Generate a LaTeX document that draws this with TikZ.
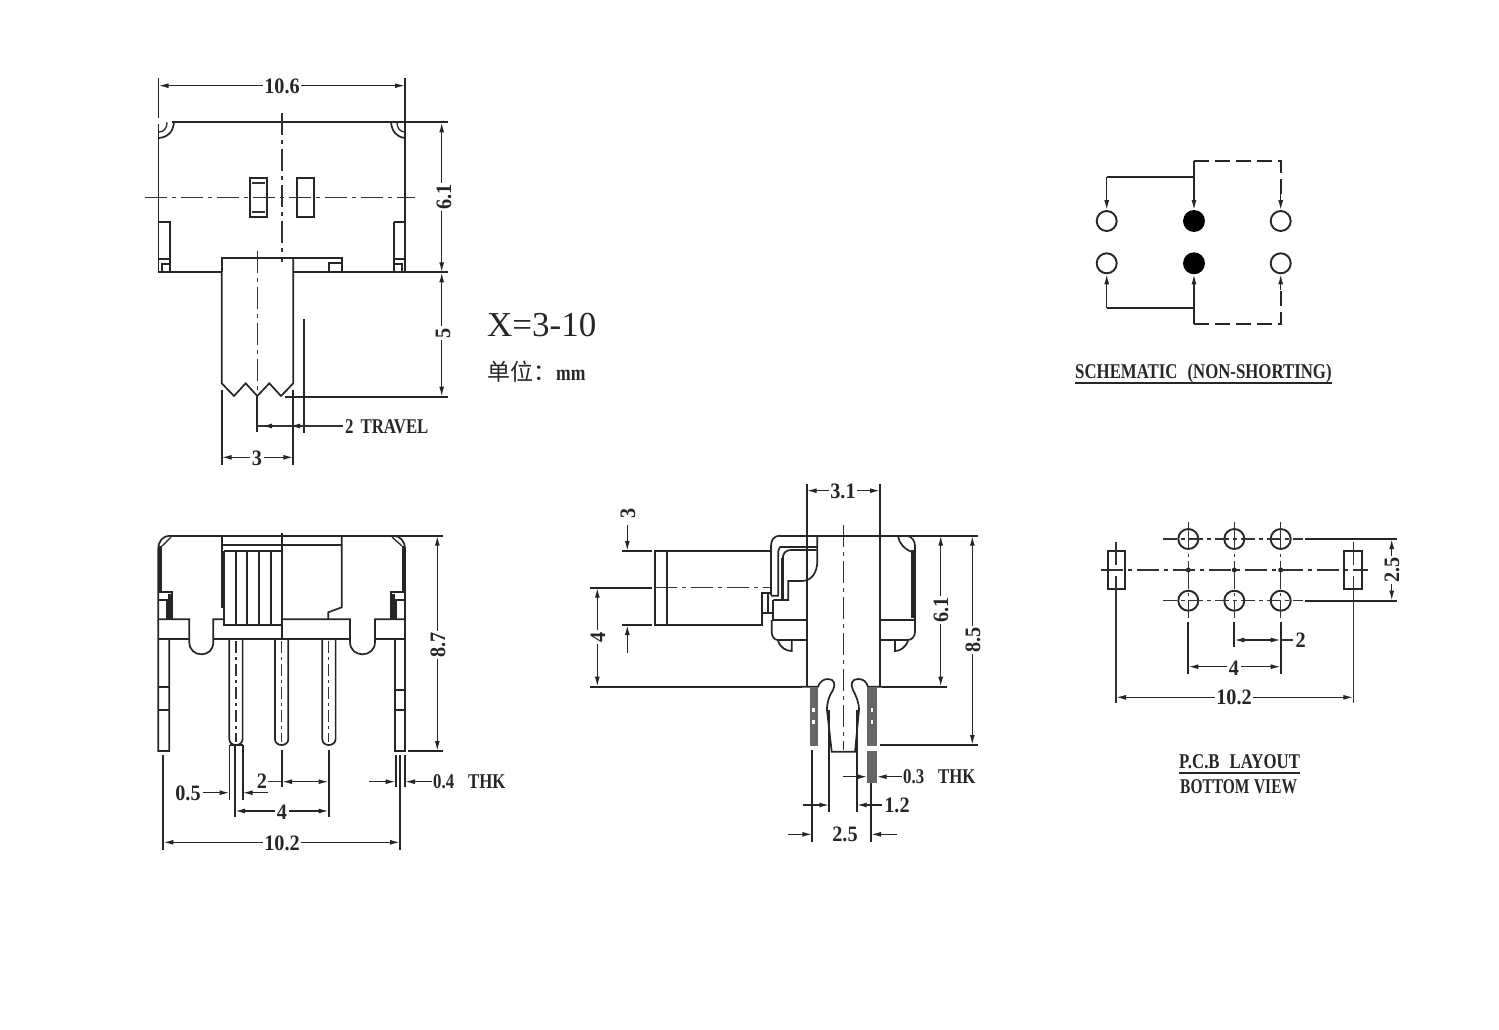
\documentclass[tikz,border=0pt]{standalone}
\usepackage{fontspec}
\usepackage{tikz}
\usetikzlibrary{arrows.meta}
\setmainfont{Liberation Serif}
\newfontfamily\digitfont{Liberation Serif}[FakeStretch=0.92]
\newfontfamily\capsfont{Liberation Serif}[FakeStretch=0.8]
\newfontfamily\cjkfont{Noto Sans CJK SC}
\tikzset{
  outline/.style={line width=1.7pt,draw=black!85},
  thinline/.style={line width=1.4pt,draw=black!80},
  heavyline/.style={line width=2.6pt,draw=black!85},
  centerline/.style={line width=1.4pt,draw=black!80,dash pattern=on 22pt off 5pt on 4pt off 5pt},
  dimboth/.style={line width=1.4pt,draw=black!85,{Latex[length=10pt,width=5pt]}-{Latex[length=10pt,width=5pt]}},
  dimend/.style={line width=1.4pt,draw=black!85,-{Latex[length=10pt,width=5pt]}},
  dimtext/.style={font=\digitfont\bfseries\fontsize{22}{22}\selectfont,fill=white,inner sep=1.5pt,text=black!85},
  capstext/.style={font=\capsfont\bfseries\fontsize{21}{21}\selectfont,inner sep=0pt,text=black!85,anchor=west},
  schemdash/.style={line width=1.7pt,draw=black!85,dash pattern=on 15pt off 6pt},
  hole/.style={line width=1.9pt,draw=black!85},
  openpad/.style={circle,draw=black!85,line width=1.9pt,minimum size=20pt,inner sep=0pt},
  fullpad/.style={circle,draw=black,fill=black,line width=1.9pt,minimum size=20pt,inner sep=0pt}
}
\begin{document}
\begin{tikzpicture}[x=1pt,y=-1pt]
\useasboundingbox (0,0) rectangle (1499,1029);
\draw [outline] (158.5,124) -- (158.5,272.3) -- (221.7,272.3);
\draw [outline] (172,122.3) -- (448,122.3);
\draw [outline] (405,78) -- (405,272.3);
\draw [outline] (293.3,272.3) -- (448,272.3);
\draw [outline] (158.5,78) -- (158.5,118);
\draw [outline] (174,122.3) .. controls (173,132) and (168,137) .. (159,138);
\draw [thinline] (167,122.3) .. controls (167,128) and (164,132) .. (159,132);
\draw [outline] (391,122.3) .. controls (392,132) and (397,137) .. (405,138);
\draw [thinline] (397,122.3) .. controls (397,128) and (400,132) .. (405,132);
\draw [outline] (158.5,222) -- (170,222) -- (170,272.3);
\draw [outline] (158.5,259) -- (170,259);
\draw [outline] (162,272.3) -- (162,264) -- (170,264);
\draw [heavyline] (394,222) -- (394,259);
\draw [outline] (394,222) -- (405,222);
\draw [outline] (394,259) -- (405,259);
\draw [outline] (394,272.3) -- (394,259);
\draw [outline] (402,272.3) -- (402,264) -- (394,264);
\draw [outline] (250,178) rectangle (267.3,217);
\draw [thinline] (252,183) -- (265,183);
\draw [thinline] (252,212) -- (265,212);
\draw [outline] (296.7,178) rectangle (314,217);
\draw [centerline] (282,113) -- (282,262);
\draw [centerline] (145,197.3) -- (415,197.3);
\draw [outline] (221.7,272.3) -- (221.7,257.7) -- (341.7,257.7) -- (341.7,272.3);
\draw [outline] (329.3,272.3) -- (329.3,262.7) -- (341.7,262.7);
\draw [outline] (221.7,272.3) -- (221.7,383.3) -- (234,396) -- (245.7,383.3) -- (257.3,396) -- (269.3,383.3) -- (281,396) -- (293.3,383.3) -- (293.3,257.7);
\draw [centerline] (257.3,251) -- (257.3,396);
\draw [outline] (257.3,396) -- (257.3,432);
\draw [outline] (303.7,319) -- (303.7,433);
\draw [outline] (285,396.7) -- (448,396.7);
\draw [outline] (221.7,390) -- (221.7,465);
\draw [outline] (293.3,390) -- (293.3,465);
\draw [thinline] (257.3,426) -- (343,426);
\draw [dimend] (272,426) -- (262,426);
\draw [dimend] (300,426) -- (290,426);
\draw [dimboth] (158.5,85.7) -- (405,85.7);
\node (topWidth) at (282,86) [dimtext] {10.6};
\draw [dimboth] (441.7,122.3) -- (441.7,272.3);
\node (topDepth) at (444,197) [dimtext,rotate=90] {6.1};
\draw [dimboth] (441.7,272.3) -- (441.7,396.7);
\node (topKnob) at (443,333) [dimtext,rotate=90] {5};
\draw [dimboth] (221.7,457.3) -- (293.3,457.3);
\node (topKnobWidth) at (257,458) [dimtext] {3};
\node (topTravel) at (345,426.5) [capstext] {2\hspace{7pt}TRAVEL};

\node (varLabel) at (487,325) [anchor=west,inner sep=0pt,font=\fontsize{35}{35}\selectfont,text=black!85] {X=3-10};
\node (unitLabel) at (487,372) [anchor=west,inner sep=0pt,text=black!85] {{\cjkfont\fontsize{23}{23}\selectfont 单位：}{\capsfont\bfseries\fontsize{22}{22}\selectfont mm}};

\draw [outline] (170,535.7) -- (443,535.7);
\draw [outline] (170,535.7) .. controls (163,535.7) and (158.3,541) .. (158.3,549) -- (158.3,751) -- (169.3,751) -- (169.3,639);
\draw [thinline] (171,537) -- (162,546);
\draw [heavyline] (160.5,546) -- (160.5,592);
\draw [outline] (158.3,592) -- (171.7,592) -- (171.7,619.3);
\draw [outline] (158.3,600) -- (167,600) -- (167,619.3);
\draw [heavyline] (169.5,594) -- (169.5,619);
\draw [outline] (393,535.7) .. controls (400,535.7) and (405,541) .. (405,549) -- (405,751) -- (395,751) -- (395,639);
\draw [thinline] (392,537) -- (402,546);
\draw [heavyline] (403,546) -- (403,592);
\draw [outline] (405,592) -- (391,592) -- (391,619.3);
\draw [outline] (405,600) -- (396,600) -- (396,619.3);
\draw [heavyline] (393.5,594) -- (393.5,619);
\draw [outline] (158.3,619.3) -- (189.3,619.3) -- (189.3,642) .. controls (189.3,650) and (195,654.3) .. (201.3,654.3) .. controls (208,654.3) and (213.3,650) .. (213.3,642) -- (213.3,619.3) -- (224.3,619.3);
\draw [outline] (282,619.3) -- (350,619.3) -- (350,642) .. controls (350,650) and (356,654.3) .. (362.5,654.3) .. controls (369,654.3) and (375,650) .. (375,642) -- (375,619.3) -- (405,619.3);
\draw [outline] (158.3,639) -- (189.3,639);
\draw [outline] (213.3,639) -- (350,639);
\draw [outline] (375,639) -- (405,639);
\draw [outline] (221.7,535.7) -- (221.7,608);
\draw [outline] (221.7,545) -- (341.7,545);
\draw [outline] (224.3,550.7) -- (282,550.7);
\draw [outline] (224.3,550.7) -- (224.3,625) -- (282,625);
\foreach \ribx in {236,247.3,259,271}
  \draw [outline] (\ribx,550.7) -- (\ribx,625);
\draw [outline] (282.3,532.7) -- (282.3,639);
\draw [outline] (341.7,535.7) -- (341.7,607.3) -- (328.3,612.3) -- (328.3,619.3);
\draw [outline] (158.3,686.7) -- (169.3,686.7);
\draw [outline] (158.3,710) -- (169.3,710);
\draw [outline] (395,690) -- (405,690);
\draw [outline] (395,710) -- (405,710);
\foreach \pinx/\pinc in {229.3/236,275/281.7,322.3/328.7}{
  \draw [outline] (\pinx,639) -- (\pinx,739) .. controls (\pinx,743) and (\pinx+3,745) .. (\pinc,745) .. controls (\pinx+10,745) and (\pinx+13.3,743) .. (\pinx+13.3,739) -- (\pinx+13.3,639);
  \draw [centerline,dash pattern=on 12pt off 4pt on 3pt off 4pt] (\pinc,641) -- (\pinc,742);
}
\draw [outline] (229.6,745) -- (229.6,800);
\draw [outline] (242.7,745) -- (242.7,800);
\draw [outline] (229.6,745) -- (242.7,745);
\draw [outline] (235,745) -- (235,816.7);
\draw [outline] (282,750) -- (282,786.7);
\draw [outline] (328.7,750) -- (328.7,816.7);
\draw [outline] (163.3,755) -- (163.3,850);
\draw [outline] (400,755) -- (400,850);
\draw [outline] (395.7,755) -- (395.7,787);
\draw [outline] (405,755) -- (405,787);
\draw [outline] (408,751) -- (443,751);
\draw [dimboth] (437.3,535.7) -- (437.3,751);
\node (frontHeight) at (438,645) [dimtext,rotate=90] {8.7};
\draw [dimend] (203,792.7) -- (229.6,792.7);
\draw [dimend] (268,792.7) -- (242.7,792.7);
\node (frontPinWidth) at (188,793) [dimtext] {0.5};
\draw [dimboth] (282,781.7) -- (328.7,781.7);
\draw [thinline] (268,781.7) -- (282,781.7);
\node (frontPitch) at (262,781.7) [dimtext,fill=none] {2};
\draw [dimboth] (235,811) -- (328.7,811);
\node (frontSpan) at (282,812) [dimtext] {4};
\draw [dimboth] (163.3,842.3) -- (400,842.3);
\node (frontWidth) at (282,843) [dimtext] {10.2};
\draw [dimend] (369,781.7) -- (395.7,781.7);
\draw [dimend] (431.7,781.7) -- (405,781.7);
\node (frontThk) at (433,782) [capstext] {0.4\hspace{14pt}THK};

\draw [outline] (806.7,484) -- (806.7,686.7);
\draw [outline] (880,484) -- (880,686.7);
\draw [centerline] (843.3,525) -- (843.3,750);
\draw [outline] (780,535.7) -- (978,535.7);
\draw [outline] (780,535.7) .. controls (774,535.7) and (771,540) .. (771,546) -- (771,595);
\draw [outline] (655,551) rectangle (666.7,625);
\draw [outline] (666.7,551) -- (771,551);
\draw [outline] (666.7,625) -- (762.3,625) -- (762.3,593.3) -- (771,593.3);
\draw [outline] (762.3,613.3) -- (771.7,613.3);
\draw [outline] (768,593.3) -- (768,613.3);
\draw [outline] (780,546.7) -- (816.7,546.7);
\draw [outline] (780,546.7) .. controls (779,548) and (778.3,549) .. (778.3,551) -- (778.3,595.7) -- (771,595.7);
\draw [outline] (816.7,550) -- (792,550) .. controls (785,550) and (782.7,553) .. (782.7,560);
\draw [heavyline] (782.7,558) -- (782.7,600);
\draw [outline] (773.3,600) -- (788.3,600) -- (788.3,581) -- (801.7,581) .. controls (812,581) and (817.3,572) .. (817.3,561) -- (817.3,535.7);
\draw [outline] (772.7,600) -- (772.7,620);
\draw [outline] (771.7,620) -- (806.7,620);
\draw [outline] (771.7,620) -- (771.7,632) .. controls (771.7,636) and (774,640) .. (778,640) -- (806.7,640);
\draw [outline] (778,641) .. controls (781,648) and (786,651) .. (791.7,651) -- (791.7,640);
\draw [outline] (880,620) -- (915,620);
\draw [outline] (880,640) -- (908,640) .. controls (912,640) and (915,636) .. (915,632) -- (915,620);
\draw [outline] (908,641) .. controls (905,648) and (900,651) .. (895,651) -- (895,640);
\draw [outline] (915,620) -- (915,546) .. controls (915,541) and (912,537) .. (908,536);
\draw [heavyline] (912.5,550) -- (912.5,618);
\draw [outline] (898,536) .. controls (899,543) and (904,549) .. (912,552);
\draw [outline] (800,686.7) -- (818,686.7) .. controls (820,681) and (824,679) .. (828,679) .. controls (834,679) and (836,684) .. (833,690) .. controls (829,696) and (827,702) .. (827,710) -- (831.7,751.7) -- (855,751.7) -- (859,710) .. controls (859,702) and (856,696) .. (853,690) .. controls (850,684) and (852,679) .. (858,679) .. controls (863,679) and (866,681) .. (868,686.7) -- (882,686.7);
\fill [black!60] (810,686.7) rectangle (818.3,746);
\fill [black!60] (867.3,686.7) rectangle (876.7,746);
\draw [line width=2.2pt,white,dash pattern=on 4pt off 8pt] (813.5,708) -- (813.5,724);
\draw [line width=2.2pt,white,dash pattern=on 4pt off 8pt] (871.7,708) -- (871.7,724);
\draw [outline] (812.3,750) -- (812.3,841.7);
\draw [outline] (829.3,710) -- (829.3,811.7);
\draw [outline] (856.7,710) -- (856.7,811.7);
\draw [outline] (871,751) -- (871,841.7);
\fill [black!60] (867.3,751) rectangle (876.7,782.7);
\draw [outline] (590,587.7) -- (652,587.7);
\draw [centerline] (655,587.7) -- (770,587.7);
\draw [outline] (621.7,551) -- (652,551);
\draw [outline] (621.7,625) -- (652,625);
\draw [outline] (590,686.7) -- (801.7,686.7);
\draw [outline] (881.7,686.7) -- (946.7,686.7);
\draw [outline] (880,745) -- (978,745);
\draw [dimboth] (806.7,490.7) -- (880,490.7);
\node (sideDepth) at (843,491) [dimtext] {3.1};
\draw [dimend] (627.3,525) -- (627.3,551);
\draw [dimend] (627.3,652.7) -- (627.3,625);
\node (sideKnob) at (628,513) [dimtext,rotate=90,fill=none] {3};
\draw [dimboth] (597.3,587.7) -- (597.3,686.7);
\node (sideDrop) at (598,637) [dimtext,rotate=90] {4};
\draw [dimboth] (940.7,535.7) -- (940.7,686.7);
\node (sideBody) at (941,610) [dimtext,rotate=90] {6.1};
\draw [dimboth] (972.3,535.7) -- (972.3,745);
\node (sideHeight) at (973,640) [dimtext,rotate=90] {8.5};
\draw [dimend] (843.3,776.7) -- (867.3,776.7);
\draw [dimend] (901.7,776.7) -- (876.7,776.7);
\node (sideThk) at (903,777) [capstext] {0.3\hspace{14pt}THK};
\draw [dimend] (802.7,805) -- (829.3,805);
\draw [dimend] (881.7,805) -- (856.7,805);
\node (sideGap) at (897,805) [dimtext,fill=none] {1.2};
\draw [dimend] (788.3,834.3) -- (812.3,834.3);
\draw [dimend] (896.7,834.3) -- (871,834.3);
\node (sidePitch) at (845,834.5) [dimtext] {2.5};

\node (contactA) at (1106.7,221) [openpad] {};
\node (contactB) at (1194,221) [fullpad] {};
\node (contactC) at (1280.7,221) [openpad] {};
\node (contactD) at (1106.7,263.3) [openpad] {};
\node (contactE) at (1194,263.3) [fullpad] {};
\node (contactF) at (1280.7,263.3) [openpad] {};
\coordinate (busTopL) at (1106.7,177.3);
\coordinate (busTopM) at (1194,177.3);
\coordinate (busTopD) at (1194,161);
\coordinate (busTopR) at (1280.7,161);
\coordinate (busBotL) at (1106.7,307.7);
\coordinate (busBotM) at (1194,307.7);
\coordinate (busBotD) at (1194,324.3);
\coordinate (busBotR) at (1280.7,324.3);
\draw [dimend] (busTopL) -- (contactA.north);
\draw [outline] (busTopL) -- (busTopM);
\draw [dimend] (busTopD) -- (contactB.north);
\draw [schemdash] (busTopD) -- (busTopR) -- ([yshift=14pt]contactC.north);
\draw [dimend] ([yshift=16pt]contactC.north) -- (contactC.north);
\draw [dimend] (busBotL) -- (contactD.south);
\draw [outline] (busBotL) -- (busBotM);
\draw [dimend] (busBotD) -- (contactE.south);
\draw [schemdash] (busBotD) -- (busBotR) -- ([yshift=-14pt]contactF.south);
\draw [dimend] ([yshift=-16pt]contactF.south) -- (contactF.south);
\node (schemTitle) at (1075,373) [capstext] {SCHEMATIC\hspace{10pt}(NON-SHORTING)};
\draw [outline] (schemTitle.south west |- 0,383) -- (schemTitle.south east |- 0,383);

\foreach \hx in {1188.3,1234.3,1280.7}{
  \draw [hole] (\hx,539) circle (10);
  \draw [hole] (\hx,600.7) circle (10);
  \draw [centerline,dash pattern=on 28pt off 4pt on 3pt off 4pt] (\hx,521.7) -- (\hx,618);
  \fill [black!85] (\hx,570) circle (2.5);
}
\draw [centerline,dash pattern=on 14pt off 4pt on 4pt off 4pt] (1163,539) -- (1303,539);
\draw [centerline,dash pattern=on 14pt off 4pt on 4pt off 4pt] (1163,600.7) -- (1303,600.7);
\draw [outline] (1305,539) -- (1396.7,539);
\draw [outline] (1305,600.7) -- (1396.7,600.7);
\draw [centerline] (1101,570) -- (1368,570);
\draw [outline] (1107.7,550.7) rectangle (1125,589.3);
\draw [outline] (1344.3,550.7) rectangle (1361.7,589.3);
\draw [thinline] (1116,541.7) -- (1116,565);
\draw [thinline] (1116,576) -- (1116,703);
\draw [thinline] (1353.3,541.7) -- (1353.3,565);
\draw [thinline] (1353.3,576) -- (1353.3,703);
\draw [outline] (1188.3,621.7) -- (1188.3,674);
\draw [outline] (1234.3,621.7) -- (1234.3,646.7);
\draw [outline] (1280.7,621.7) -- (1280.7,674);
\draw [dimboth] (1234.3,640) -- (1280.7,640);
\draw [thinline] (1280.7,640) -- (1293,640);
\node (pcbPitch) at (1300.7,640) [dimtext,fill=none] {2};
\draw [dimboth] (1188.3,666.7) -- (1280.7,666.7);
\node (pcbSpan) at (1234,668) [dimtext] {4};
\draw [dimboth] (1116,697.3) -- (1353.3,697.3);
\node (pcbWidth) at (1234,697.5) [dimtext] {10.2};
\draw [dimboth] (1391.7,539) -- (1391.7,600.7);
\node (pcbRow) at (1392,570) [dimtext,rotate=90] {2.5};
\node (pcbTitle) at (1179,762) [capstext] {P.C.B\hspace{10pt}LAYOUT};
\draw [outline] (pcbTitle.south west |- 0,773) -- (pcbTitle.south east |- 0,773);
\node (pcbView) at (1180,787) [capstext,xscale=0.92] {BOTTOM\hspace{5pt}VIEW};
\end{tikzpicture}
\end{document}
